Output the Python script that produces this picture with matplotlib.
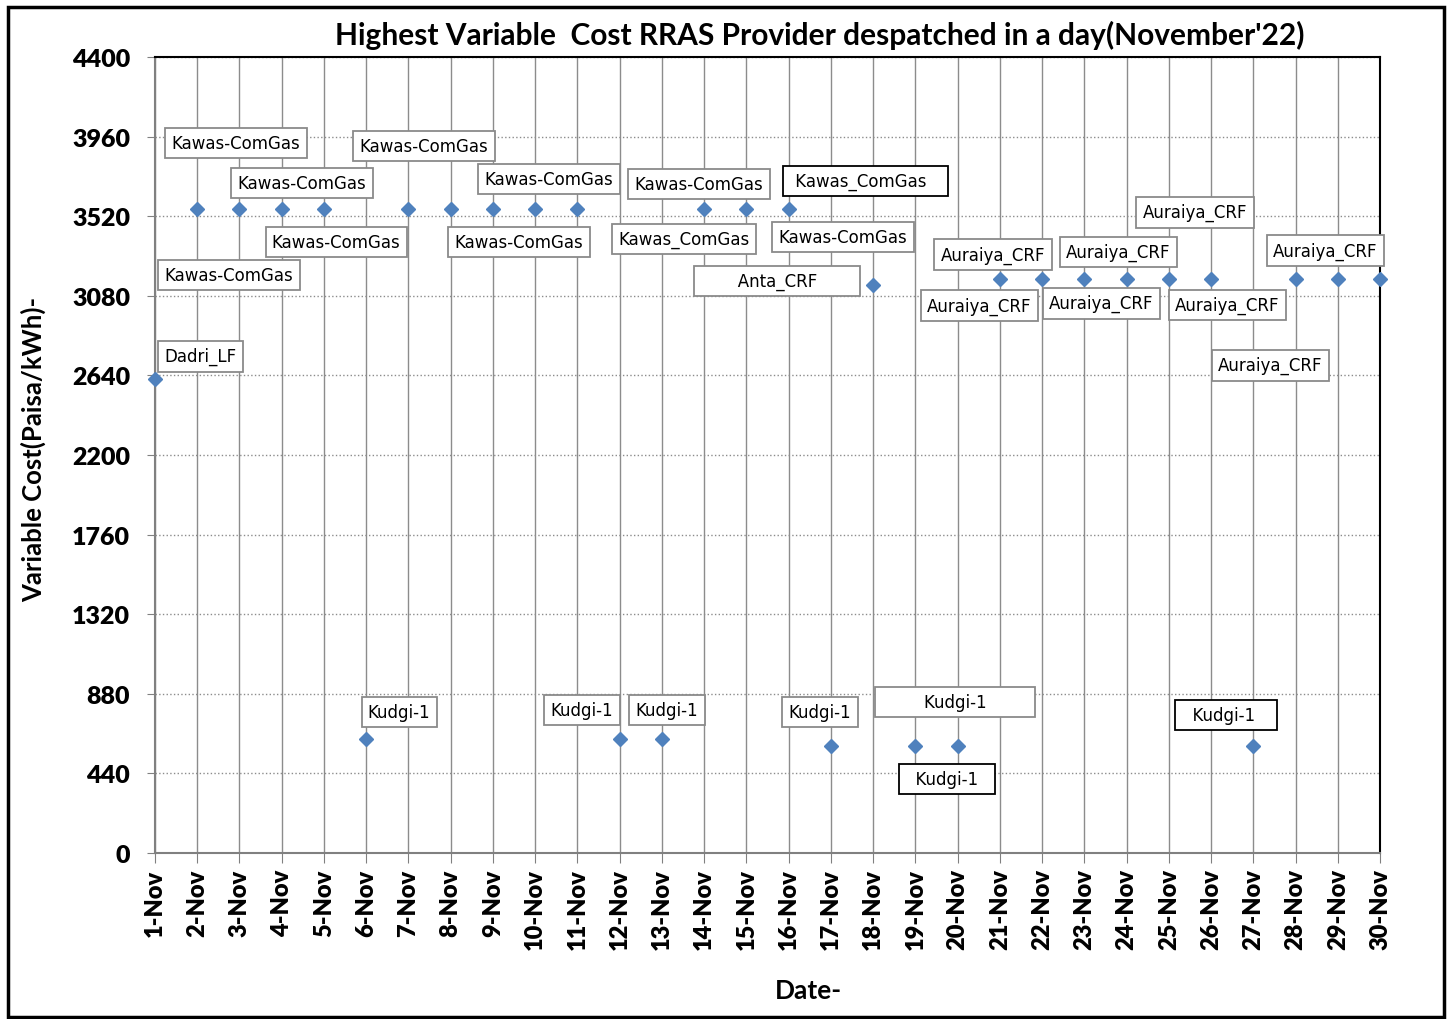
import matplotlib
matplotlib.use("Agg")
import matplotlib.pyplot as plt
from matplotlib.patches import Rectangle

# data
days = list(range(1, 31))
dates = [f"{d}-Nov" for d in days]
cost = [2620, 3560, 3560, 3560, 3560, 630, 3560, 3560, 3560, 3560,
        3560, 630, 630, 3560, 3560, 3560, 590, 3140, 590, 590,
        3175, 3175, 3175, 3175, 3175, 3175, 590, 3175, 3175, 3175]

# provider labels as placed on the original chart
label_text = ["Kawas-ComGas", "Kawas-ComGas", "Kawas-ComGas", "Kawas-ComGas", "Dadri_LF",
              "Kawas-ComGas", "Kawas-ComGas", "Kawas-ComGas", "Kawas-ComGas", "Kawas_ComGas",
              " Kawas_ComGas   ", "Kawas-ComGas", "       Anta_CRF       ",
              "Auraiya_CRF", "Auraiya_CRF", "Auraiya_CRF", "Auraiya_CRF", "Auraiya_CRF",
              "Auraiya_CRF", "Auraiya_CRF", "Auraiya_CRF",
              "Kudgi-1", "Kudgi-1", "Kudgi-1", "Kudgi-1", "        Kudgi-1        ",
              "  Kudgi-1  ", "  Kudgi-1   "]
label_pos = [(2.92, 3925), (4.48, 3704), (5.29, 3377), (2.75, 3195), (2.07, 2747),
             (7.37, 3908), (10.33, 3726), (9.62, 3377), (13.88, 3698), (13.52, 3394),
             (17.83, 3715), (17.29, 3405), (15.73, 3162),
             (20.84, 3306), (20.51, 3024), (23.80, 3322), (23.40, 3040), (25.62, 3543),
             (26.38, 3029), (27.40, 2697), (28.70, 3328),
             (6.78, 779), (11.11, 790), (13.12, 790), (16.74, 779), (19.94, 835),
             (19.75, 409), (26.36, 763)]
black_edge = {10, 26, 27}

fig = plt.figure(figsize=(14.51, 10.20), dpi=100)
ax = fig.add_axes([155 / 1451, 1 - 854 / 1020, 1225 / 1451, 796 / 1020])

ax.plot(days, cost, linestyle="none", marker="D", markersize=7,
        color="#4F81BD", zorder=3, clip_on=False)

for i, (txt, (x, y)) in enumerate(zip(label_text, label_pos)):
    edge = "black" if i in black_edge else "#8a8a8a"
    ax.text(x, y, txt, ha="center", va="center", fontsize=12,
            family="DejaVu Sans", zorder=4,
            bbox=dict(boxstyle="square,pad=0.38", fc="white", ec=edge, lw=1.3))

ax.set_xlim(1, 30)
ax.set_ylim(0, 4400)
ax.set_xticks(days)
ax.set_xticklabels(dates, rotation=90, fontsize=17, fontweight="heavy", family="Lato")
ax.set_yticks(range(0, 4401, 440))
ax.set_yticklabels([str(v) for v in range(0, 4401, 440)], fontsize=18,
                   fontweight="heavy", family="Lato")
ax.tick_params(axis="x", direction="out", length=7, color="#808080", pad=4)
ax.tick_params(axis="y", direction="out", length=6, color="#808080", pad=12)

ax.grid(axis="x", color="#8c8c8c", linestyle="-", linewidth=1)
ax.grid(axis="y", color="#8c8c8c", linestyle=":", linewidth=1)
ax.set_axisbelow(True)
for side in ["left", "bottom"]:
    ax.spines[side].set_color("#808080")
    ax.spines[side].set_linewidth(1.5)
for side in ["top", "right"]:
    ax.spines[side].set_color("black")
    ax.spines[side].set_linewidth(1.5)

fig.text(819.5 / 1451, 1 - 35 / 1020,
         "Highest Variable  Cost RRAS Provider despatched in a day(November'22)",
         ha="center", va="center", fontsize=21.5, fontweight="bold", family="Lato")
fig.text(808 / 1451, 1 - 991 / 1020, "Date-", ha="center", va="center",
         fontsize=19, fontweight="bold", family="Lato")
fig.text(33 / 1451, 1 - 449 / 1020, "Variable Cost(Paisa/kWh)-", ha="center",
         va="center", rotation=90, fontsize=18.5, fontweight="bold", family="Lato")

fig.patches.append(Rectangle((8 / 1451, 2 / 1020), 1436 / 1451, 1010 / 1020,
                             transform=fig.transFigure, fill=False,
                             ec="black", lw=2.5))

fig.savefig("out.png", dpi=100)
